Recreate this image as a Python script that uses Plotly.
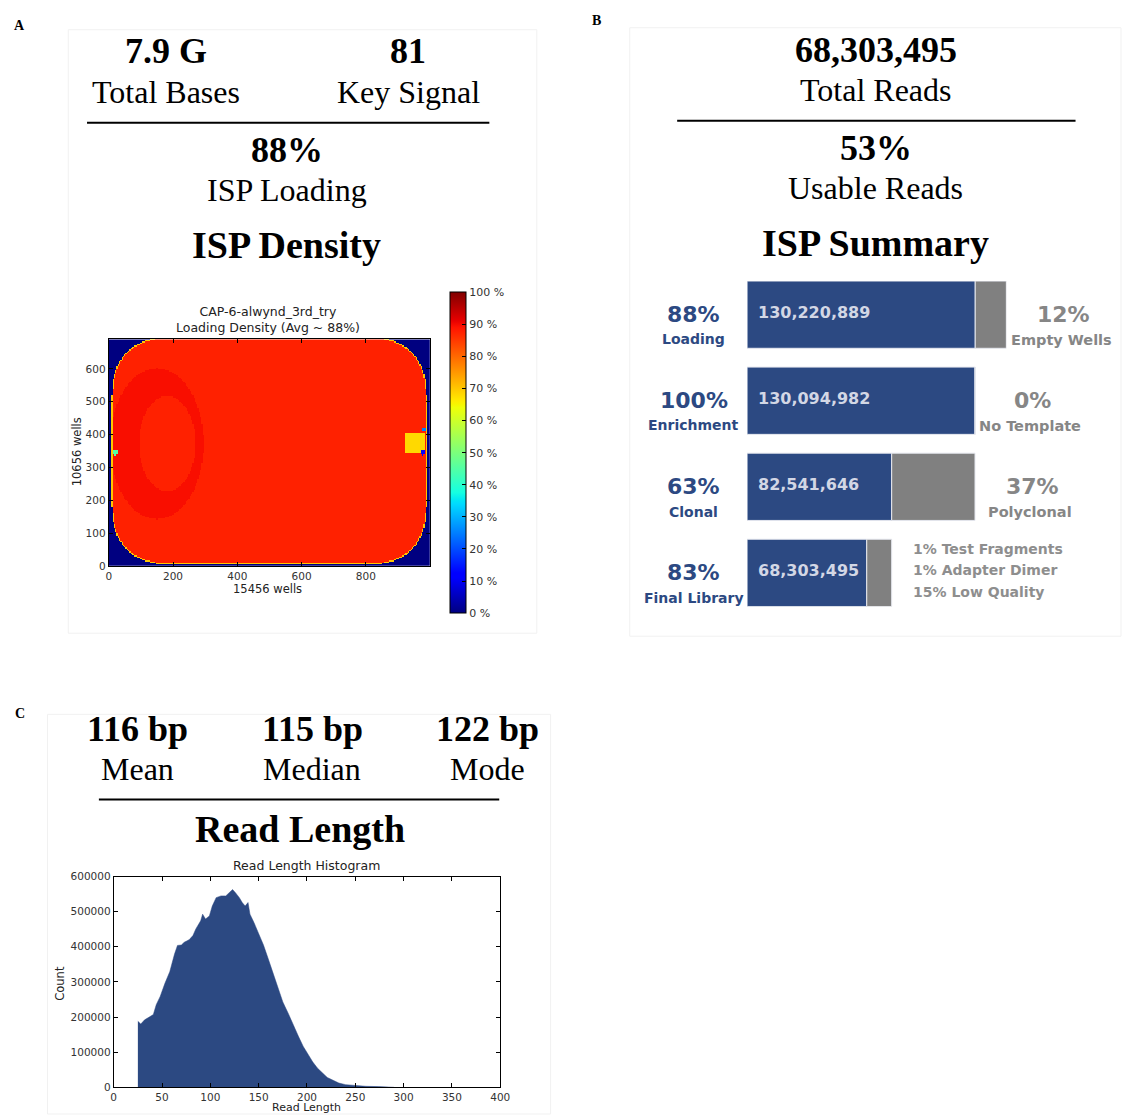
import numpy as np
import plotly.graph_objects as go

W, H = 1132, 1120

# ---------------- Panel A: headline numbers ----------------
a_values = ["7.9 G", "81"]
a_labels = ["Total Bases", "Key Signal"]
a_loading_value = "88%"
a_loading_label = "ISP Loading"
a_heading = "ISP Density"
heat_title = ["CAP-6-alwynd_3rd_try", "Loading Density (Avg ~ 88%)"]
heat_xlabel = "15456 wells"
heat_ylabel = "10656 wells"

# Loading-density map description (well units, levels as loading fraction)
chip_x = [10, 990]
chip_y = [4, 696]
chip_corner = [175, 175]
level_main = 0.875
level_edge = 0.70
level_left_zone = 0.895
left_zone_center = [150, 372]
left_zone_axes = [145, 230]
oval_center = [182, 372]
oval_axes = [88, 145]
level_oval = 0.875
patch_x = [925, 984]
patch_y = [345, 405]
level_patch = 0.68
spot_x = [978, 981, 20]
spot_y = [345, 416, 345]
spot_r = [8, 6, 8]
spot_level = [0.12, 0.25, 0.45]
heat_xticks = [0, 200, 400, 600, 800]
heat_yticks = [0, 100, 200, 300, 400, 500, 600]
cbar_ticks = [0, 0.1, 0.2, 0.3, 0.4, 0.5, 0.6, 0.7, 0.8, 0.9, 1.0]
cbar_labels = ["0 %", "10 %", "20 %", "30 %", "40 %", "50 %", "60 %", "70 %", "80 %", "90 %", "100 %"]

# ---------------- Panel B: ISP summary ----------------
b_value = "68,303,495"
b_label = "Total Reads"
b_usable_value = "53%"
b_usable_label = "Usable Reads"
b_heading = "ISP Summary"
isp_rows = ["Loading", "Enrichment", "Clonal", "Final Library"]
isp_pct = ["88%", "100%", "63%", "83%"]
isp_counts = [130220889, 130094982, 82541646, 68303495]
isp_totals = [147978283, 130220889, 130094982, 82541646]
isp_rest_pct = ["12%", "0%", "37%"]
isp_rest_labels = ["Empty Wells", "No Template", "Polyclonal"]
final_breakdown = ["1% Test Fragments", "1% Adapter Dimer", "15% Low Quality"]

# ---------------- Panel C: read length ----------------
c_values = ["116 bp", "115 bp", "122 bp"]
c_labels = ["Mean", "Median", "Mode"]
c_heading = "Read Length"
hist_title = "Read Length Histogram"
read_len = [25, 28, 32, 37, 41, 44, 48, 53, 58, 63, 66, 70, 73, 78, 82, 85, 90, 92, 95,
            99, 102, 106, 111, 116, 119, 123, 126, 130, 133, 136, 139, 141, 145, 150,
            155, 160, 165, 170, 175, 181, 186, 191, 196, 201, 206, 211, 216, 221, 227,
            233, 240, 249, 261, 274, 283, 290]
read_count = [188000, 180000, 192000, 199000, 207000, 235000, 258000, 296000, 329000,
              380000, 404000, 405000, 413000, 420000, 432000, 451000, 474000, 493000,
              479000, 488000, 516000, 540000, 545000, 545000, 554000, 563000, 554000,
              540000, 526000, 516000, 526000, 493000, 470000, 437000, 405000, 365000,
              322000, 280000, 243000, 208000, 175000, 146000, 117000, 94000, 72000,
              54000, 40000, 28000, 20000, 12000, 7500, 4700, 2800, 1900, 1000, 0]

NAVY = "#2c4982"
GRAY = "#808080"
SERIF = "Liberation Serif"
SANS = "DejaVu Sans"


def px(x):
    return x / W


def py(y):
    return 1 - y / H


# ---- matplotlib-style jet colour scale
r_pts = [(0, 0), (0.35, 0), (0.66, 1), (0.89, 1), (1, 0.5)]
g_pts = [(0, 0), (0.125, 0), (0.375, 1), (0.64, 1), (0.91, 0), (1, 0)]
b_pts = [(0, 0.5), (0.11, 1), (0.34, 1), (0.65, 0), (1, 0)]
knots = sorted({p for seg in (r_pts, g_pts, b_pts) for p, _ in seg})


def _chan(seg, t):
    return float(np.interp(t, [p for p, _ in seg], [v for _, v in seg]))


jet = [[t, "rgb(%d,%d,%d)" % (round(255 * _chan(r_pts, t)), round(255 * _chan(g_pts, t)),
                              round(255 * _chan(b_pts, t)))] for t in knots]

# ---- loading density grid
cell = 4
nx, ny = 250, 173
xs = (np.arange(nx) + 0.5) * cell
ys = (np.arange(ny) + 0.5) * cell
X, Y = np.meshgrid(xs, ys)
cx, cy = np.mean(chip_x), np.mean(chip_y)
hw, hh = (chip_x[1] - chip_x[0]) / 2, (chip_y[1] - chip_y[0]) / 2
rx, ry = chip_corner
ddx = np.maximum(0, np.abs(X - cx) - (hw - rx)) / rx
ddy = np.maximum(0, np.abs(Y - cy) - (hh - ry)) / ry
pexp = 2.3
dist = (ddx ** pexp + ddy ** pexp) ** (1 / pexp)

Z = np.zeros_like(X)
inside = dist <= 1.0
Z[inside] = level_main
lz = ((X - left_zone_center[0]) / left_zone_axes[0]) ** 2 + ((Y - left_zone_center[1]) / left_zone_axes[1]) ** 2
Z[inside & (lz <= 1)] = level_left_zone
ov = ((X - oval_center[0]) / oval_axes[0]) ** 2 + ((Y - oval_center[1]) / oval_axes[1]) ** 2
Z[inside & (ov <= 1)] = level_oval
Z[inside & (X >= patch_x[0]) & (X <= patch_x[1]) & (Y >= patch_y[0]) & (Y <= patch_y[1])] = level_patch
Z[inside & (dist > 0.98)] = level_edge
for sx, sy, sr, sl in zip(spot_x, spot_y, spot_r, spot_level):
    Z[(X - sx) ** 2 + (Y - sy) ** 2 <= sr ** 2] = sl
Z = np.round(Z, 3)

fig = go.Figure()

fig.add_trace(go.Heatmap(
    z=Z, x0=cell / 2, dx=cell, y0=cell / 2, dy=cell,
    colorscale=jet, zmin=0, zmax=1, xaxis="x", yaxis="y",
    hoverinfo="skip",
    colorbar=dict(
        thickness=16, thicknessmode="pixels", len=321, lenmode="pixels",
        x=px(452), xanchor="left", y=py(451.5), yanchor="middle",
        xpad=0, ypad=0, outlinewidth=1, outlinecolor="black",
        tickvals=cbar_ticks, ticktext=cbar_labels, ticks="inside", ticklen=4,
        tickcolor="black", tickfont=dict(family=SANS, size=11, color="#333333"),
    ),
))

# ---- ISP summary bars (each row is a share of the row above)
rows = list(range(len(isp_rows)))
bar_w = 68 / 87
fig.add_trace(go.Bar(
    y=rows, x=isp_counts, orientation="h", width=bar_w, xaxis="x2", yaxis="y2",
    marker=dict(color=NAVY, line=dict(color="#e6e8ef", width=1)), hoverinfo="skip",
))
fig.add_trace(go.Bar(
    y=rows, x=[t - c for t, c in zip(isp_totals, isp_counts)], base=isp_counts,
    orientation="h", width=bar_w, xaxis="x2", yaxis="y2",
    marker=dict(color=GRAY, line=dict(color="#e6e8ef", width=1)), hoverinfo="skip",
))

# ---- read length histogram
fig.add_trace(go.Scatter(
    x=read_len, y=read_count, mode="lines", fill="tozeroy",
    line=dict(width=0.5, color=NAVY), fillcolor=NAVY, xaxis="x3", yaxis="y3",
    hoverinfo="skip",
))

axis_common = dict(showline=True, linecolor="black", linewidth=1, mirror="ticks",
                   ticks="inside", ticklen=4, tickcolor="black", showgrid=False,
                   zeroline=False, tickfont=dict(family=SANS, size=10.5, color="#333333"))

fig.update_layout(
    width=W, height=H, margin=dict(l=0, r=0, t=0, b=0),
    paper_bgcolor="white", plot_bgcolor="white", showlegend=False, barmode="overlay",
    xaxis=dict(domain=[px(107), px(432)], range=[0, 1000], tickvals=heat_xticks,
               anchor="y", **axis_common),
    yaxis=dict(domain=[py(566), py(337)], range=[0, 690], tickvals=heat_yticks,
               anchor="x", **axis_common),
    xaxis2=dict(domain=[px(752.7), px(1015)], range=[0, isp_totals[0]], visible=False,
                anchor="y2"),
    yaxis2=dict(domain=[py(607), py(278)], range=[3 + bar_w / 2, -bar_w / 2],
                visible=False, anchor="x2"),
    xaxis3=dict(domain=[px(112), px(503)], range=[0, 400],
                tickvals=list(range(0, 401, 50)), anchor="y3", **axis_common),
    yaxis3=dict(domain=[py(1093), py(880)], range=[0, 600000],
                tickvals=list(range(0, 600001, 100000)), tickformat="d", anchor="x3",
                **axis_common),
)

ann = []


def text(x, y, s, size, family=SERIF, bold=False, color="black", xanchor="center",
         angle=0, **kw):
    ann.append(dict(x=px(x), y=py(y), xref="paper", yref="paper",
                    text=("<b>%s</b>" % s) if bold else s,
                    showarrow=False, xanchor=xanchor, yanchor="middle", textangle=angle,
                    font=dict(family=family, size=size, color=color), **kw))


# panel letters
text(17, 20, "A", 14, bold=True)
text(600, 15, "B", 14, bold=True)
text(17, 715, "C", 14, bold=True)

# panel A header
for xc, v, l in zip([165, 410], a_values, a_labels):
    text(xc, 45, v, 36, bold=True)
    text(xc, 87, l, 32)
text(287, 146, a_loading_value, 36, bold=True)
text(287, 186, a_loading_label, 32)
text(287, 242, a_heading, 38, bold=True)
text(268, 317, "<br>".join(heat_title), 12.5, family=SANS, color="#222222")
text(268, 589, heat_xlabel, 11.5, family=SANS, color="#222222")
text(75, 451, heat_ylabel, 11.5, family=SANS, color="#222222", angle=-90)

# panel B header
text(883, 44, b_value, 36, bold=True)
text(883, 85, b_label, 32)
text(883, 144, b_usable_value, 36, bold=True)
text(883, 184, b_usable_label, 32)
text(883, 240, b_heading, 38, bold=True)

# ISP row labels
row_center = [278 + 34 + 87 * i for i in rows]
for i in rows:
    text(699, row_center[i], isp_pct[i], 22, family=SANS, bold=True, color=NAVY)
    text(699, row_center[i] + 25, isp_rows[i], 14, family=SANS, bold=True, color=NAVY)
    ann.append(dict(x=0, y=i, xref="x2", yref="y2", xshift=9, yshift=2, xanchor="left",
                    yanchor="middle", showarrow=False, text="<b>%s</b>" % f"{isp_counts[i]:,}",
                    font=dict(family=SANS, size=16, color="#d3d7e5")))
for i in rows[:3]:
    ann.append(dict(x=isp_totals[i], y=i, xref="x2", yref="y2", xshift=57, yshift=0,
                    xanchor="center", yanchor="middle", showarrow=False,
                    text="<b>%s</b>" % isp_rest_pct[i],
                    font=dict(family=SANS, size=22, color="#868686")))
    ann.append(dict(x=isp_totals[i], y=i, xref="x2", yref="y2", xshift=55, yshift=-25,
                    xanchor="center", yanchor="middle", showarrow=False,
                    text="<b>%s</b>" % isp_rest_labels[i],
                    font=dict(family=SANS, size=14.5, color="#868686")))
for k, s in enumerate(final_breakdown):
    ann.append(dict(x=isp_totals[3], y=3, xref="x2", yref="y2", xshift=19,
                    yshift=24 - 21.5 * k, xanchor="left", yanchor="middle", showarrow=False,
                    text="<b>%s</b>" % s, font=dict(family=SANS, size=14, color="#8e8e8e")))

# panel C header
for xc, v, l in zip([136, 313, 490], c_values, c_labels):
    text(xc, 731, v, 36, bold=True)
    text(xc, 771, l, 32)
text(300, 832, c_heading, 38, bold=True)
text(307, 869, hist_title, 12.5, family=SANS, color="#222222")
text(307, 1113, "Read Length", 11, family=SANS, color="#222222")
text(58, 988, "Count", 11.5, family=SANS, color="#222222", angle=-90)

fig.update_layout(annotations=ann)


def pline(x0, x1, y):
    return dict(type="line", xref="paper", yref="paper", x0=px(x0), x1=px(x1),
                y0=py(y), y1=py(y), line=dict(color="black", width=2))


def frame(x0, x1, y0, y1):
    return dict(type="rect", xref="paper", yref="paper", x0=px(x0), x1=min(px(x1), 1),
                y0=max(py(y1), 0), y1=py(y0), line=dict(color="#f1f1f1", width=1))


shapes = [
    # rules under the headline numbers
    pline(85, 492, 118),
    pline(682, 1085, 116),
    pline(97, 502, 802),
    # faint panel frames
    frame(66, 540, 24, 634),
    frame(634, 1131, 22, 637),
    frame(45, 554, 716, 1120),
]
fig.update_layout(shapes=shapes)

fig.write_html("out.html")
